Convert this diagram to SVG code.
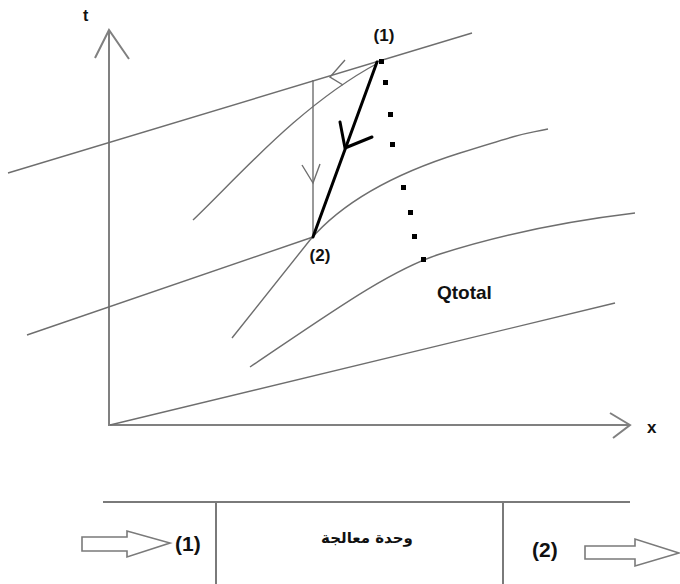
<svg xmlns="http://www.w3.org/2000/svg" width="680" height="584" viewBox="0 0 680 584">
<style>
.ax{stroke:#808080;stroke-width:2;fill:none}
.cv{stroke:#6e6e6e;stroke-width:1.4;fill:none}
.thick{stroke:#000;stroke-width:3;fill:none;stroke-linecap:round;stroke-linejoin:round}
.dot{fill:#000}
.lbl{font-family:"Liberation Sans",Arial,sans-serif;font-weight:bold;fill:#111}
.ar{font-family:"DejaVu Sans","Noto Sans",sans-serif;font-weight:bold;fill:#111}
.box{stroke:#7a7a7a;stroke-width:2;fill:none}
.hollow{stroke:#7a7a7a;stroke-width:1.6;fill:#fff;stroke-linejoin:miter}
</style>
<rect width="680" height="584" fill="#fff"/>
<g id="axes">
<line class="ax" x1="109" y1="30" x2="109" y2="426"/>
<line class="ax" x1="108" y1="425" x2="630" y2="425"/>
<polyline class="ax" points="95,58 109,30 129,59"/>
<polyline class="ax" points="610,413 630,425 613,438"/>
<text class="lbl" x="83" y="21" font-size="16">t</text>
<text class="lbl" x="647" y="433" font-size="17">x</text>
</g>
<g id="connectors">
<path class="cv" d="M8,173 L472,33"/>
<path class="cv" d="M193,220 C240,175 300,105 378,63"/>
<path class="cv" d="M27,335 L313,237"/>
<path class="cv" d="M232,338 L310,240 C340,205 390,175 460,153 S520,135 548,129"/>
<path class="cv" d="M250,367 C330,313 390,270 440,254 S560,222 635,213"/>
<path class="cv" d="M110,425 L615,303"/>
<line class="cv" x1="313" y1="80" x2="313" y2="237"/>
<polyline class="cv" points="302,165 313,183 320,164"/>
<polyline class="cv" points="345,60 330,77 343,85"/>
<path class="thick" d="M377,62 L313,237"/>
<polyline class="thick" points="340,122 345,148 372,137"/>
</g>
<g id="dots">
<rect class="dot" x="379" y="59" width="5" height="5"/>
<rect class="dot" x="383" y="80" width="5" height="5"/>
<rect class="dot" x="388" y="112" width="5" height="5"/>
<rect class="dot" x="390" y="142" width="5" height="5"/>
<rect class="dot" x="401" y="185" width="5" height="5"/>
<rect class="dot" x="408" y="210" width="5" height="5"/>
<rect class="dot" x="412" y="234" width="5" height="5"/>
<rect class="dot" x="421" y="257" width="5" height="5"/>
</g>
<g id="point1"><text class="lbl" x="384" y="41" font-size="17" text-anchor="middle">(1)</text></g>
<g id="point2"><text class="lbl" x="320" y="261" font-size="17" text-anchor="middle">(2)</text></g>
<g id="qtotal"><text class="lbl" x="437" y="299" font-size="19">Qtotal</text></g>
<g id="unit">
<line class="box" x1="103" y1="502" x2="630" y2="502"/>
<line class="box" x1="216" y1="502" x2="216" y2="584"/>
<line class="box" x1="503" y1="502" x2="503" y2="584"/>
<text class="ar" x="367" y="543" font-size="15" text-anchor="middle">وحدة معالجة</text>
</g>
<g id="inlet">
<polygon class="hollow" points="82,537 127,537 127,531 170,543 127,557 127,551 82,551"/>
<text class="lbl" x="175" y="551" font-size="21">(1)</text>
</g>
<g id="outlet">
<text class="lbl" x="532" y="557" font-size="21">(2)</text>
<polygon class="hollow" points="585,546 635,546 635,539 679,553 635,566 635,559 585,559"/>
</g>
</svg>
